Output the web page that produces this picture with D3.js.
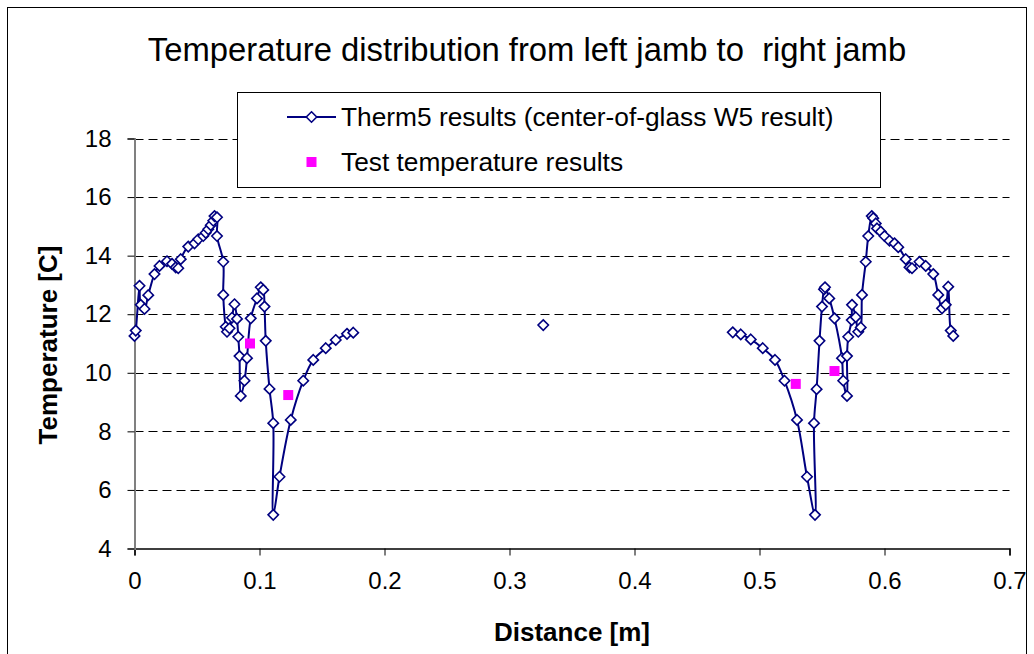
<!DOCTYPE html>
<html>
<head>
<meta charset="utf-8">
<script src="https://cdn.jsdelivr.net/npm/d3@7"></script>
<style>
  body { margin: 0; background: #fff; }
  text { font-family: "Liberation Sans", Arial, sans-serif; white-space: pre; }
</style>
</head>
<body>
<svg id="chart" width="1034" height="654"></svg>
<script>
// ---- data ----
const thermX = [
  0.000, 0.001, 0.004, 0.005, 0.008, 0.011, 0.016, 0.020, 0.026, 0.030,
  0.033, 0.035, 0.037, 0.043, 0.048, 0.051, 0.055, 0.057, 0.059, 0.061,
  0.063, 0.064, 0.066, 0.066, 0.071, 0.071, 0.073, 0.074, 0.076, 0.078,
  0.080, 0.082, 0.083, 0.084, 0.085, 0.088, 0.090, 0.093, 0.098, 0.101,
  0.103, 0.104, 0.105, 0.108, 0.111, 0.111, 0.116, 0.125, 0.135, 0.143,
  0.153, 0.161, 0.170, 0.175,
  null,
  0.327,
  null,
  0.4786, 0.485, 0.493, 0.5026, 0.5124, 0.520, 0.530, 0.538, 0.5444, 0.5436,
  0.5457, 0.548, 0.550, 0.5516, 0.5524, 0.5558, 0.560, 0.566, 0.567, 0.570,
  0.570, 0.571, 0.5738, 0.574, 0.577, 0.579, 0.581, 0.582, 0.585, 0.587,
  0.5898, 0.591, 0.593, 0.594, 0.597, 0.600, 0.604, 0.608, 0.611, 0.617,
  0.620, 0.622, 0.628, 0.633, 0.639, 0.643, 0.646, 0.649, 0.651, 0.653,
  0.655
];
const thermT = [
  11.26, 11.44, 12.97, 12.32, 12.18, 12.65, 13.37, 13.65, 13.81, 13.72,
  13.60, 13.57, 13.88, 14.31, 14.42, 14.56, 14.67, 14.78, 14.90, 15.04,
  15.19, 15.35, 15.31, 14.67, 13.79, 12.66, 11.57, 11.40, 11.52, 11.88,
  12.34, 11.84, 11.23, 10.57, 9.21, 9.73, 10.50, 11.86, 12.54, 12.92,
  12.83, 12.26, 11.09, 9.45, 8.28, 5.15, 6.45, 8.39, 9.73, 10.44,
  10.84, 11.12, 11.33, 11.37,
  null,
  11.63,
  null,
  11.38, 11.31, 11.14, 10.84, 10.44, 9.73, 8.39, 6.45, 5.15, 8.28,
  9.44, 11.09, 12.26, 12.85, 12.92, 12.54, 11.86, 10.50, 9.73, 9.21,
  10.57, 11.23, 11.80, 12.32, 11.90, 11.40, 11.55, 12.66, 13.79, 14.67,
  15.35, 15.28, 15.10, 14.93, 14.82, 14.67, 14.51, 14.42, 14.29, 13.88,
  13.60, 13.57, 13.79, 13.65, 13.37, 12.66, 12.20, 12.32, 12.94, 11.44,
  11.26
];
const testX = [0.0924, 0.123, 0.529, 0.560];
const testT = [11.00, 9.24, 9.62, 10.06];
const xTicks = [0, 0.1, 0.2, 0.3, 0.4, 0.5, 0.6, 0.7];
const yTicks = [4, 6, 8, 10, 12, 14, 16, 18];
const titleText = "Temperature distribution from left jamb to  right jamb";
const xTitle = "Distance [m]";
const yTitle = "Temperature [C]";
const seriesNames = ["Therm5 results (center-of-glass W5 result)", "Test temperature results"];

// ---- layout ----
const svg = d3.select("#chart");
const x = d3.scaleLinear().domain([0, 0.7]).range([134.5, 1009.5]);
const y = d3.scaleLinear().domain([4, 18]).range([548.5, 138.5]);
const navy = "#000080", magenta = "#FF00FF";

// outer frame
svg.append("rect").attr("x", 7.5).attr("y", 7.5).attr("width", 1019).attr("height", 700)
  .attr("fill", "#fff").attr("stroke", "#000").attr("stroke-width", 1);

// gridlines
svg.append("g").selectAll("line").data(yTicks.filter(d => d > 4)).join("line")
  .attr("x1", x(0)).attr("x2", x(0.7))
  .attr("y1", d => Math.round(y(d)) + 0.5).attr("y2", d => Math.round(y(d)) + 0.5)
  .attr("stroke", "#000").attr("stroke-width", 1).attr("stroke-dasharray", "9,5");

// axes
const xAxis = d3.axisBottom(x).tickValues(xTicks).tickSize(7).tickPadding(16)
  .tickFormat(d => d === 0 ? "0" : d3.format(".1f")(d));
const gx = svg.append("g").attr("transform", `translate(0,${y(4)})`).call(xAxis);
gx.select(".domain").attr("stroke", "#000").attr("stroke-width", 1.5);
gx.selectAll(".tick line").attr("stroke", "#000");
gx.selectAll("text").attr("font-size", 24).attr("fill", "#000")
  .style("font-family", "'Liberation Sans', Arial, sans-serif");

const yAxis = d3.axisLeft(y).tickValues(yTicks).tickSize(7).tickPadding(16).tickFormat(d3.format("d"));
const gy = svg.append("g").attr("transform", `translate(${x(0)},0)`).call(yAxis);
gy.select(".domain").attr("stroke", "#808080").attr("stroke-width", 2);
gy.selectAll(".tick line").attr("stroke", "#000");
gy.selectAll("text").attr("font-size", 24).attr("fill", "#000")
  .style("font-family", "'Liberation Sans', Arial, sans-serif");

// series line
const pts = thermX.map((v, i) => ({ x: v, t: thermT[i] }));
const line = d3.line().defined(d => d.x !== null && d.t !== null)
  .x(d => x(d.x)).y(d => y(d.t)).curve(d3.curveCatmullRom.alpha(0.5));
svg.append("path").datum(pts).attr("d", line)
  .attr("fill", "none").attr("stroke", navy).attr("stroke-width", 2);

const diamond = (cx, cy, r) => `M${cx},${cy - r}L${cx + r},${cy}L${cx},${cy + r}L${cx - r},${cy}Z`;
svg.append("g").selectAll("path").data(pts.filter(d => d.x !== null)).join("path")
  .attr("d", d => diamond(x(d.x), y(d.t), 5.2))
  .attr("fill", "#fff").attr("stroke", navy).attr("stroke-width", 1.6);

// test points
svg.append("g").selectAll("rect").data(testX.map((v, i) => ({ x: v, t: testT[i] }))).join("rect")
  .attr("x", d => x(d.x) - 5).attr("y", d => y(d.t) - 5).attr("width", 10).attr("height", 10)
  .attr("fill", magenta);

// legend
const lg = svg.append("g");
lg.append("rect").attr("x", 237.5).attr("y", 92.5).attr("width", 643).attr("height", 95)
  .attr("fill", "#fff").attr("stroke", "#000").attr("stroke-width", 1);
lg.append("line").attr("x1", 287).attr("x2", 336).attr("y1", 117).attr("y2", 117)
  .attr("stroke", navy).attr("stroke-width", 2);
lg.append("path").attr("d", diamond(311.5, 117, 5.2)).attr("fill", "#fff").attr("stroke", navy).attr("stroke-width", 1.6);
lg.append("rect").attr("x", 306.5).attr("y", 157).attr("width", 10).attr("height", 10).attr("fill", magenta);
lg.append("text").attr("x", 341).attr("y", 117).attr("dy", "0.35em").attr("font-size", 26.3).text(seriesNames[0]);
lg.append("text").attr("x", 341).attr("y", 162).attr("dy", "0.35em").attr("font-size", 26.3).text(seriesNames[1]);

// titles
svg.append("text").attr("x", 527).attr("y", 50).attr("dy", "0.35em").attr("text-anchor", "middle")
  .attr("font-size", 32.8).text(titleText);
svg.append("text").attr("x", 572).attr("y", 632).attr("dy", "0.35em").attr("text-anchor", "middle")
  .attr("font-size", 26).attr("font-weight", "bold").text(xTitle);
svg.append("text").attr("transform", "translate(48,345) rotate(-90)").attr("dy", "0.35em")
  .attr("text-anchor", "middle").attr("font-size", 26).attr("font-weight", "bold").text(yTitle);
</script>
</body>
</html>
